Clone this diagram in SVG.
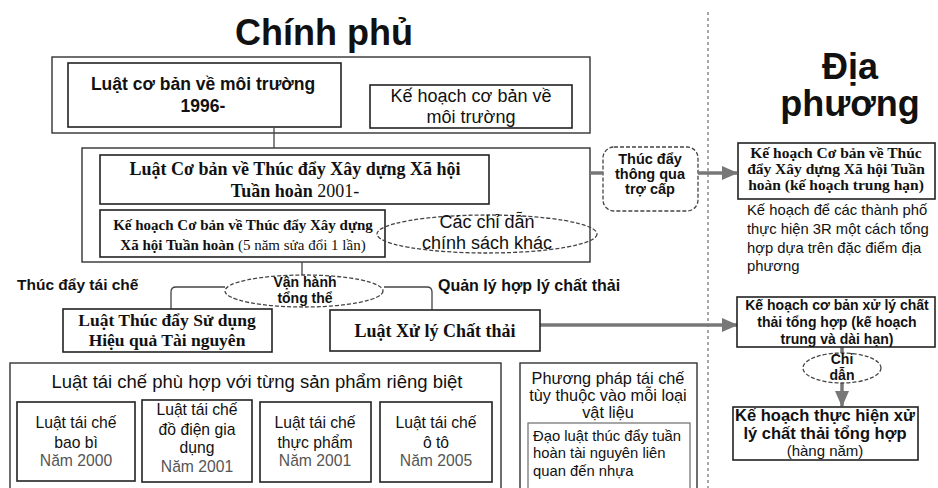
<svg xmlns="http://www.w3.org/2000/svg" width="938" height="488" viewBox="0 0 938 488">
<defs>
<marker id="ah" markerUnits="userSpaceOnUse" markerWidth="16" markerHeight="14" refX="15" refY="7" orient="auto">
<path d="M0,0 L16,7 L0,14 Z" fill="#777"/>
</marker>
<style>
.box{fill:#fff;stroke:#222;stroke-width:1.6}
.frame{fill:none;stroke:#333;stroke-width:1.4}
.dash{fill:#fff;stroke:#444;stroke-width:1.3;stroke-dasharray:4 2}
.ln{fill:none;stroke:#444;stroke-width:1.3}
.gar{fill:none;stroke:#777;stroke-width:3.5}
.sans{font-family:"Liberation Sans",Arial,sans-serif;fill:#111}
.serif{font-family:"Liberation Serif","Times New Roman",serif;fill:#111;font-weight:bold}
.b{font-weight:bold}
.n{font-weight:normal}
.c{text-anchor:middle}
.gray{fill:#555}
</style>
</defs>

<line x1="708" y1="12" x2="708" y2="488" stroke="#777" stroke-width="1.3" stroke-dasharray="3 3"/>

<g id="title-gov"><text class="sans b c" x="324" y="45" font-size="36">Chính phủ</text></g>
<g id="title-local"><text class="sans b c" x="850" y="79" font-size="36">Địa</text><text class="sans b c" x="850" y="116" font-size="36">phương</text></g>

<g id="group-env">
<rect class="frame" x="52" y="57" width="538" height="76"/>
</g>
<g id="env-law">
<rect class="box" x="68" y="63" width="273" height="64"/>
<text class="sans b c" x="203" y="90" font-size="17.5">Luật cơ bản về môi trường</text>
<text class="sans b c" x="203" y="112" font-size="17.5">1996-</text>
</g>
<g id="env-plan">
<rect class="box" x="370" y="85" width="202" height="43"/>
<text class="sans c" x="471" y="102" font-size="18">Kế hoạch cơ bản về</text>
<text class="sans c" x="471" y="123" font-size="18">môi trường</text>
</g>

<g id="group-circ">
<rect class="frame" x="82" y="148" width="508" height="114"/>
</g>
<g id="circ-law">
<rect class="box" x="100" y="155" width="389" height="49"/>
<text class="serif c" x="295" y="175" font-size="18">Luật Cơ bản về Thúc đẩy Xây dựng Xã hội</text>
<text class="serif c" x="295" y="197" font-size="18">Tuần hoàn <tspan class="n">2001-</tspan></text>
</g>
<g id="circ-plan">
<rect class="box" x="100" y="210" width="285" height="47"/>
<text class="serif c" x="243" y="230" font-size="15">Kế hoạch Cơ bản về Thúc đẩy Xây dựng</text>
<text class="serif c" x="243" y="250" font-size="15">Xã hội Tuần hoàn <tspan class="n">(5 năm sửa đổi 1 lần)</tspan></text>
</g>
<g id="other-guides">
<ellipse class="dash" cx="487" cy="234" rx="110" ry="19" style="fill:none"/>
<text class="sans c" x="487" y="228" font-size="18">Các chỉ dẫn</text>
<text class="sans c" x="487" y="249" font-size="18">chính sách khác</text>
</g>

<g id="subsidy">
<rect class="dash" x="603" y="147" width="95" height="64" rx="11"/>
<text class="sans b c" x="650" y="164" font-size="14.5">Thúc đẩy</text>
<text class="sans b c" x="650" y="179" font-size="14.5">thông qua</text>
<text class="sans b c" x="650" y="194" font-size="14.5">trợ cấp</text>
</g>

<g id="local-circ-plan">
<rect class="box" x="738" y="143" width="197" height="56"/>
<text class="serif c" x="836" y="158" font-size="15.5">Kế hoạch Cơ bản về Thúc</text>
<text class="serif c" x="836" y="174" font-size="15.5">đẩy Xây dựng Xã hội Tuần</text>
<text class="serif c" x="836" y="190" font-size="15.5">hoàn (kế hoạch trung hạn)</text>
</g>
<g id="local-note">
<text class="sans" x="747" y="215" font-size="14.8">Kế hoạch để các thành phố</text>
<text class="sans" x="747" y="234" font-size="14.8">thực hiện 3R một cách tổng</text>
<text class="sans" x="747" y="253" font-size="14.8">hợp dựa trên đặc điểm địa</text>
<text class="sans" x="747" y="271" font-size="14.8">phương</text>
</g>

<g id="label-recycle"><text class="sans b" x="17" y="290" font-size="15.5">Thúc đẩy tái chế</text></g>
<g id="label-waste"><text class="sans b" x="438" y="291" font-size="16">Quản lý hợp lý chất thải</text></g>

<g id="connectors">
<line class="ln" x1="274" y1="127" x2="274" y2="148"/>
<line class="ln" x1="302" y1="262" x2="302" y2="275"/>
<path class="ln" d="M171,309 V292 Q171,287 176,287 H225"/>
<path class="ln" d="M384,287 H427 Q432,287 432,292 V310"/>
<line class="gar" x1="590" y1="173" x2="603" y2="173"/>
<line class="gar" x1="698" y1="173" x2="737" y2="173" marker-end="url(#ah)"/>
<line class="gar" x1="540" y1="325" x2="737" y2="325" marker-end="url(#ah)"/>
<line class="gar" x1="842" y1="347" x2="842" y2="353"/>
<line class="gar" x1="842" y1="383" x2="842" y2="406" marker-end="url(#ah)"/>
</g>

<g id="overall">
<ellipse class="dash" cx="304" cy="291" rx="79" ry="16"/>
<text class="sans b c" x="305" y="287" font-size="14">Vận hành</text>
<text class="sans b c" x="305" y="303" font-size="14">tổng thể</text>
</g>

<g id="resource-law">
<rect class="box" x="63" y="309" width="209" height="43"/>
<text class="serif c" x="167" y="326" font-size="17.5">Luật Thúc đẩy Sử dụng</text>
<text class="serif c" x="167" y="346" font-size="17.5">Hiệu quả Tài nguyên</text>
</g>
<g id="waste-law">
<rect class="box" x="330" y="310" width="210" height="41"/>
<text class="serif c" x="435" y="337" font-size="18">Luật Xử lý Chất thải</text>
</g>

<g id="local-waste-plan">
<rect class="box" x="737" y="297" width="198" height="50"/>
<text class="sans b c" x="837" y="310" font-size="14">Kế hoạch cơ bản xử lý chất</text>
<text class="sans b c" x="837" y="327" font-size="14">thải tổng hợp (kế hoạch</text>
<text class="sans b c" x="837" y="344" font-size="14">trung và dài hạn)</text>
</g>
<g id="guide">
<ellipse class="dash" cx="842" cy="368" rx="39" ry="15"/>
<text class="sans b c" x="842" y="364" font-size="14">Chỉ</text>
<text class="sans b c" x="842" y="380" font-size="14">dẫn</text>
</g>
<g id="local-impl-plan">
<rect class="box" x="733" y="407" width="185" height="53"/>
<text class="sans b c" x="825" y="421" font-size="16.5">Kế hoạch thực hiện xử</text>
<text class="sans b c" x="825" y="439" font-size="16.5">lý chất thải tổng hợp</text>
<text class="sans c" x="825" y="456" font-size="15">(hàng năm)</text>
</g>

<g id="product-laws">
<rect class="frame" x="10" y="363" width="491" height="130"/>
<text class="sans c" x="257" y="388" font-size="18.5">Luật tái chế phù hợp với từng sản phẩm riêng biệt</text>
</g>
<g id="pkg">
<rect class="box" x="17" y="402" width="118" height="79"/>
<text class="sans c" x="76" y="428" font-size="15.7">Luật tái chế</text>
<text class="sans c" x="76" y="448" font-size="15.7">bao bì</text>
<text class="sans c gray" x="76" y="466" font-size="15.7">Năm 2000</text>
</g>
<g id="appliance">
<rect class="box" x="142" y="400" width="110" height="82"/>
<text class="sans c" x="197" y="415" font-size="15.7">Luật tái chế</text>
<text class="sans c" x="197" y="435" font-size="15.7">đồ điện gia</text>
<text class="sans c" x="197" y="453" font-size="15.7">dụng</text>
<text class="sans c gray" x="197" y="472" font-size="15.7">Năm 2001</text>
</g>
<g id="food">
<rect class="box" x="260" y="402" width="111" height="80"/>
<text class="sans c" x="315" y="428" font-size="15.7">Luật tái chế</text>
<text class="sans c" x="315" y="448" font-size="15.7">thực phẩm</text>
<text class="sans c gray" x="315" y="466" font-size="15.7">Năm 2001</text>
</g>
<g id="car">
<rect class="box" x="380" y="402" width="112" height="80"/>
<text class="sans c" x="436" y="428" font-size="15.7">Luật tái chế</text>
<text class="sans c" x="436" y="448" font-size="15.7">ô tô</text>
<text class="sans c gray" x="436" y="466" font-size="15.7">Năm 2005</text>
</g>

<g id="material-methods">
<rect class="frame" x="520" y="363" width="177" height="130"/>
<text class="sans c" x="608" y="384" font-size="16.3">Phương pháp tái chế</text>
<text class="sans c" x="608" y="401" font-size="16.3">tùy thuộc vào mỗi loại</text>
<text class="sans c" x="608" y="418" font-size="16.3">vật liệu</text>
</g>
<g id="plastic-law">
<rect x="528" y="423" width="162" height="70" fill="#fff" stroke="#777" stroke-width="1.3"/>
<text class="sans" x="533" y="441" font-size="14.8">Đạo luật thúc đẩy tuần</text>
<text class="sans" x="533" y="458" font-size="14.8">hoàn tài nguyên liên</text>
<text class="sans" x="533" y="476" font-size="14.8">quan đến nhựa</text>
</g>
</svg>
